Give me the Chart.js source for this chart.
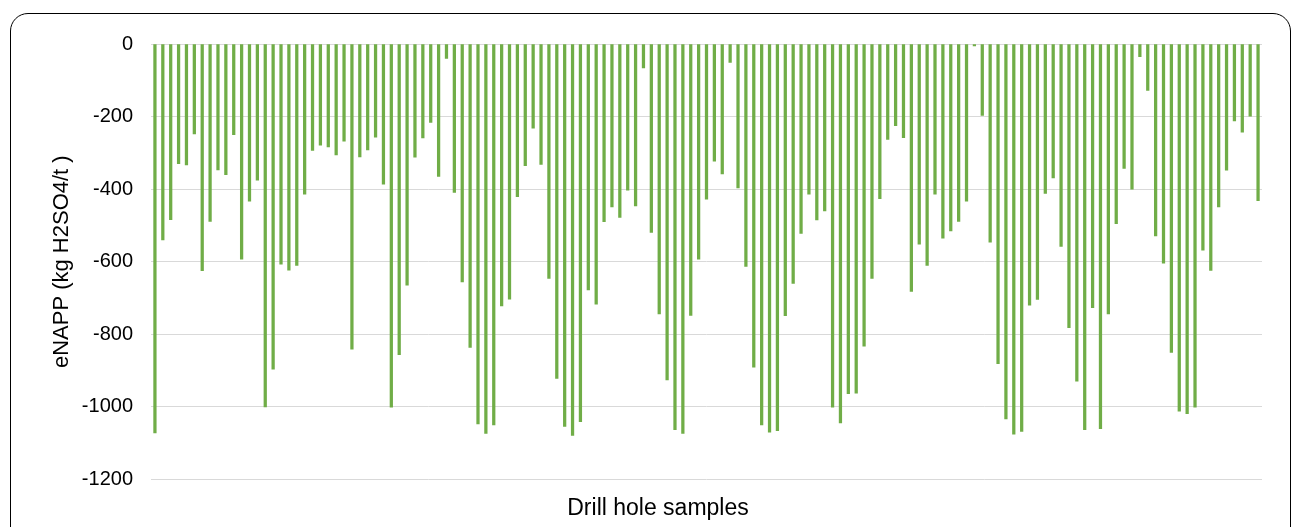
<!DOCTYPE html>
<html>
<head>
<meta charset="utf-8">
<script src="https://cdn.jsdelivr.net/npm/chart.js@4"></script>
<style>
    html, body { margin: 0; padding: 0; background: #fff; overflow: hidden; }
    #frame {
        position: absolute; left: 10px; top: 13px;
        width: 1279px; height: 600px;
        border: 1.5px solid #000; border-radius: 18px;
    }
    #enappChart { position: absolute; left: 0; top: 0; }
</style>
</head>
<body>
<div id="frame"></div>
<canvas id="enappChart" width="1292" height="527" style="width:1292px;height:527px"></canvas>
<script>
// eNAPP per drill hole sample (kg H2SO4/t)
const enapp = [
    -1072, -540, -484, -330, -333, -248, -625, -489, -347, -360, -250, -593,
    -433, -375, -1000, -896, -607, -623, -610, -414, -293, -279, -284, -306,
    -268, -841, -311, -292, -257, -386, -1001, -856, -665, -312, -259, -216,
    -365, -40, -409, -656, -836, -1047, -1073, -1050, -722, -703, -421,
    -335, -232, -332, -646, -922, -1054, -1079, -1041, -678, -717, -490,
    -449, -478, -403, -446, -66, -519, -744, -926, -1063, -1073, -748, -593, -428,
    -323, -358, -51, -397, -613, -891, -1050, -1070, -1066, -749, -660, -522,
    -414, -485, -460, -1001, -1044, -964, -962, -833, -646, -426, -263,
    -225, -258, -682, -552, -610, -414, -535, -515, -489, -433, -5, -197,
    -546, -881, -1033, -1075, -1068, -720, -704, -412, -369, -558, -782, -929,
    -1063, -727, -1060, -744, -495, -343, -400, -35, -128, -529, -604, -850,
    -1012, -1019, -1001, -568, -624, -449, -348, -212, -243, -199, -432
];
const samples = enapp.map((_, i) => 'S' + (i + 1));
const yTicks = [0, -200, -400, -600, -800, -1000, -1200];

const yTitle = 'eNAPP (kg H2SO4/t )';
const xTitle = 'Drill hole samples';

const ctx = document.getElementById('enappChart');
new Chart(ctx, {
    type: 'bar',
    data: {
        labels: samples,
        datasets: [{
            label: 'eNAPP',
            data: enapp,
            backgroundColor: '#70ad47',
            borderWidth: 0,
            barThickness: 2.6
        }]
    },
    options: {
        responsive: false,
        animation: false,
        layout: { padding: { top: 44, right: 30, bottom: 0, left: 54 } },
        plugins: {
            legend: { display: false },
            tooltip: { enabled: false },
            // x axis title, centred on the whole frame like the reference
            title: {
                display: true,
                position: 'bottom',
                text: xTitle,
                color: '#000',
                font: { family: 'Liberation Sans', size: 23, weight: 'normal', lineHeight: 1.2 },
                padding: { top: 0, bottom: 5 }
            }
        },
        scales: {
            x: {
                grid: { display: false },
                border: { display: false },
                ticks: { display: false },
                afterFit: function (scale) { scale.height = 15; }
            },
            y: {
                min: -1200,
                max: 0,
                afterBuildTicks: function (scale) {
                    scale.ticks = yTicks.map(v => ({ value: v }));
                },
                grid: { color: '#d9d9d9', lineWidth: 1, drawTicks: false },
                border: { display: false },
                ticks: {
                    color: '#000',
                    padding: 18,
                    font: { family: 'Liberation Sans', size: 20 },
                    callback: function (value) { return String(value); }
                },
                title: {
                    display: true,
                    text: yTitle,
                    color: '#000',
                    font: { family: 'Liberation Sans', size: 22, lineHeight: 0.7 },
                    padding: { top: 0, bottom: 0 }
                },
                afterFit: function (scale) { scale.width = 97; }
            }
        }
    }
});
</script>
</body>
</html>
